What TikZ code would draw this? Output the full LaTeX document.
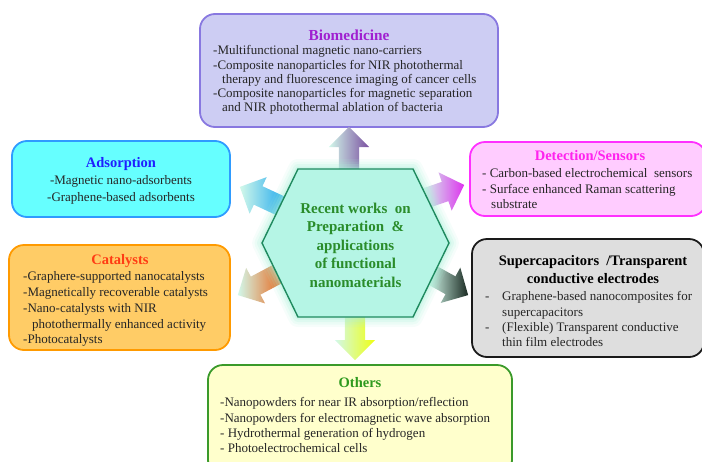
\documentclass[tikz,border=0pt]{standalone}
\usepackage{fontspec}
\setmainfont{Liberation Serif}
\usetikzlibrary{shapes.arrows}

\definecolor{biofill}{HTML}{CDCDF3}
\definecolor{bioline}{HTML}{8878E0}
\definecolor{biohead}{HTML}{A020D0}
\definecolor{adsfill}{HTML}{66FFFF}
\definecolor{adsline}{HTML}{2E9BFF}
\definecolor{adshead}{HTML}{1F1FFF}
\definecolor{catfill}{HTML}{FFCC66}
\definecolor{catline}{HTML}{FF9A00}
\definecolor{cathead}{HTML}{FF3C14}
\definecolor{detfill}{HTML}{FFCCFF}
\definecolor{detline}{HTML}{FF30FF}
\definecolor{dethead}{HTML}{FF22EE}
\definecolor{supfill}{HTML}{DEDEDE}
\definecolor{supline}{HTML}{1A1A1A}
\definecolor{othfill}{HTML}{FFFFCC}
\definecolor{othline}{HTML}{3A9A2A}
\definecolor{othhead}{HTML}{2E9A1E}
\definecolor{hexfill}{HTML}{B5F5E5}
\definecolor{hexline}{HTML}{1F8A5F}
\definecolor{hexglow}{HTML}{A8F0D8}
\definecolor{hubgreen}{HTML}{2A8C2A}
\definecolor{itemtext}{HTML}{262626}
\definecolor{tailfill}{HTML}{D2F8EA}
\definecolor{biotip}{HTML}{7A4FA0}
\definecolor{othtip}{HTML}{EEFF10}
\definecolor{adstip}{HTML}{22AAEE}
\definecolor{cattip}{HTML}{E8661A}
\definecolor{dettip}{HTML}{DD33EE}
\definecolor{suptip}{HTML}{1A2A22}

\tikzset{
  panel/.style={draw, rounded corners=15pt, line width=1.8pt, inner sep=0pt},
  heading/.style={font=\fontsize{14.5}{18}\selectfont\bfseries, inner sep=0pt, text height=10pt, text depth=3pt},
  items/.style={font=\fontsize{13}{#1}\selectfont, text=itemtext, align=left, inner sep=0pt, anchor=north west},
  items/.default=14.3,
  flow/.style={single arrow, single arrow head extend=10pt, inner xsep=0pt, inner ysep=10pt,
    minimum height=#1, anchor=tail, draw=none, left color=tailfill},
  hexoutline/.style={insert path={(262,243) -- (298,169) -- (413,169) -- (449,243) -- (413,317) -- (298,317) -- cycle}},
}

\begin{document}
\begin{tikzpicture}[x=1pt,y=-1pt]
\clip (0,0) rectangle (702,461);

\node[panel, fill=biofill, draw=bioline, minimum width=298, minimum height=113] (bio) at (349,70.5) {};
\node[heading, text=biohead, font=\fontsize{15.3}{18}\selectfont\bfseries] (biot) at (349,37) {Biomedicine};
\node[items] (biob) at (213,45.4) {-Multifunctional magnetic nano-carriers\\-Composite nanoparticles for NIR photothermal\\\hspace*{9pt}therapy and fluorescence imaging of cancer cells\\-Composite nanoparticles for magnetic separation\\\hspace*{9pt}and NIR photothermal ablation of bacteria};

\node[panel, fill=adsfill, draw=adsline, minimum width=218, minimum height=76] (ads) at (121,179) {};
\node[heading, text=adshead] (adst) at (121,164) {Adsorption};
\node[items=17, align=center, anchor=north] (adsb) at (121,175.4) {-Magnetic nano-adsorbents\\-Graphene-based adsorbents};

\node[panel, fill=catfill, draw=catline, minimum width=221, minimum height=105] (cat) at (119.5,297.5) {};
\node[heading, text=cathead] (catt) at (120,261) {Catalysts};
\node[items=15.8] (catb) at (23,271.4) {-Graphere-supported nanocatalysts\\-Magnetically recoverable catalysts\\-Nano-catalysts with NIR\\\hspace*{9pt}photothermally enhanced activity\\-Photocatalysts};

\node[panel, fill=detfill, draw=detline, minimum width=236, minimum height=74] (det) at (588,179) {};
\node[heading, text=dethead] (dett) at (590,157) {Detection/Sensors};
\node[items=15.5] (detb) at (482,168.4) {- Carbon-based electrochemical\ \ sensors\\- Surface enhanced Raman scattering\\\hspace*{9pt}substrate};

\node[panel, fill=supfill, draw=supline, minimum width=232, minimum height=118] (sup) at (588,298) {};
\node[heading, align=center, text depth=0pt] (supt) at (593,278.5) {Supercapacitors\ \ /Transparent\\conductive electrodes};
\node[items=15.4] (supb) at (485,291.4) {\makebox[17pt][l]{-}Graphene-based nanocomposites for\\\hspace*{17pt}supercapacitors\\\makebox[17pt][l]{-}(Flexible) Transparent conductive\\\hspace*{17pt}thin film electrodes};

\node[panel, fill=othfill, draw=othline, minimum width=304, minimum height=110] (oth) at (360,420) {};
\node[heading, text=othhead] (otht) at (360,384) {Others};
\node[items=15.3] (othb) at (220,397.4) {-Nanopowders for near IR absorption/reflection\\-Nanopowders for electromagnetic wave absorption\\- Hydrothermal generation of hydrogen\\- Photoelectrochemical cells};

\node[flow=42, rotate=90, right color=biotip] (toBio) at (349,169) {};
\node[flow=43, rotate=-90, right color=othtip] (toOth) at (355,317) {};
\node[flow=45, rotate=155, right color=adstip] (toAds) at (280.8,206) {};
\node[flow=45, rotate=208, right color=cattip] (toCat) at (277.7,273.9) {};
\node[flow=40, rotate=19, right color=dettip] (toDet) at (426.2,198) {};
\node[flow=40, rotate=-29, right color=suptip] (toSup) at (433,275.6) {};

\foreach \w/\o in {20/0.10, 15/0.14, 10/0.20, 5/0.30}
  \draw[hexglow, line width=\w pt, opacity=\o, line join=round, hexoutline];
\draw[fill=hexfill, draw=hexline, line width=1.4pt, hexoutline];
\node[font=\fontsize{15}{18.5}\selectfont\bfseries, text=hubgreen, align=center, inner sep=0pt] (hub) at (355.5,245) {Recent works\ \ on\\Preparation\ \ \&\\applications\\of functional\\nanomaterials};
\end{tikzpicture}
\end{document}
